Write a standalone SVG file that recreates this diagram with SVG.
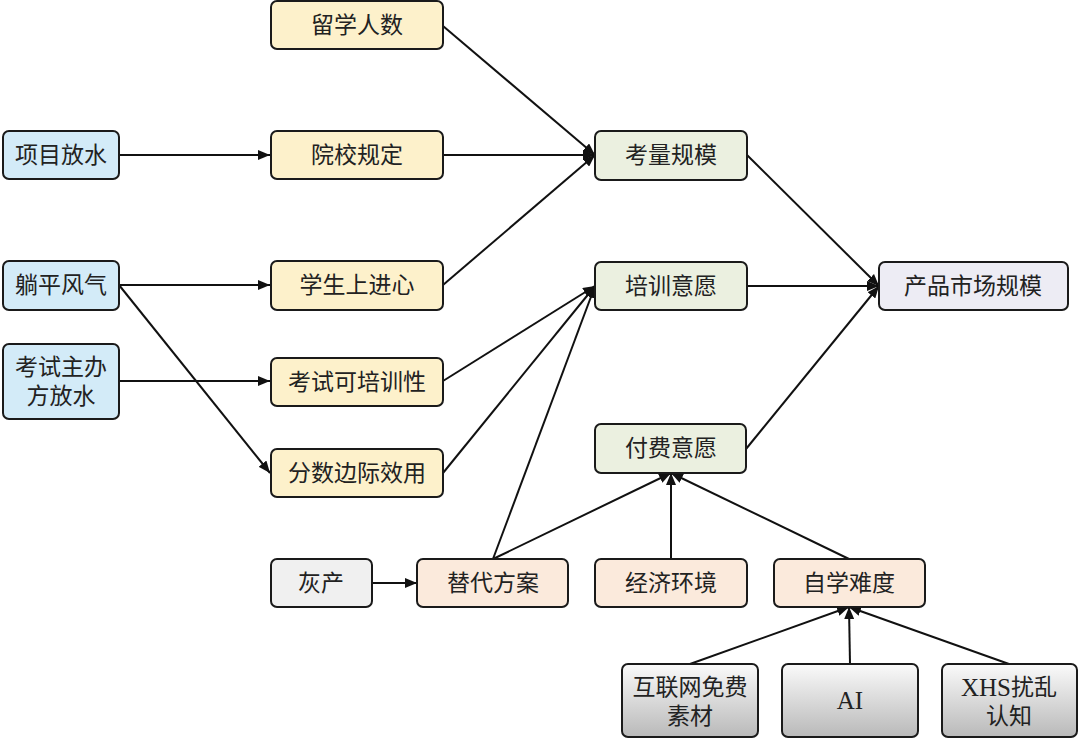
<svg xmlns="http://www.w3.org/2000/svg" width="1080" height="740" viewBox="0 0 1080 740">
<style>
.n{stroke:#1a1a1a;stroke-width:2}
.b{fill:#d3ebf8}.y{fill:#fdf1cb}.g{fill:#ebf0e0}.p{fill:#edecf4}.k{fill:#f0f0f0}.o{fill:#fbeadc}.gr{fill:url(#grad)}
text{font-family:"Liberation Serif","Noto Sans CJK SC",serif;font-size:23px;fill:#222;text-anchor:middle;dominant-baseline:central}
.lat{font-size:25px}
.e line{stroke:#111;stroke-width:2;marker-end:url(#ah)}
</style>
<defs>
<linearGradient id="grad" x1="0" y1="0" x2="0" y2="1">
<stop offset="0" stop-color="#fafafa"/><stop offset="1" stop-color="#b9b9b9"/>
</linearGradient>
<marker id="ah" viewBox="0 0 12 10" refX="12" refY="5" markerWidth="12" markerHeight="10" markerUnits="userSpaceOnUse" orient="auto">
<path d="M0,0 L12,5 L0,10 z" fill="#111"/>
</marker>
</defs>
<rect width="1080" height="740" fill="#fff"/>
<g class="e" id="connectors">
<line x1="443" y1="26" x2="595" y2="155"/>
<line x1="443" y1="155" x2="595" y2="155"/>
<line x1="443" y1="285" x2="595" y2="155"/>
<line x1="119" y1="155" x2="270" y2="155"/>
<line x1="119" y1="285" x2="270" y2="285"/>
<line x1="119" y1="285" x2="270" y2="473"/>
<line x1="119" y1="381" x2="270" y2="381"/>
<line x1="443" y1="381" x2="595" y2="286"/>
<line x1="443" y1="473" x2="595" y2="286"/>
<line x1="493" y1="559" x2="595" y2="286"/>
<line x1="493" y1="559" x2="671" y2="473"/>
<line x1="671" y1="559" x2="671" y2="473"/>
<line x1="849" y1="559" x2="671" y2="473"/>
<line x1="372" y1="583" x2="417" y2="583"/>
<line x1="747" y1="155" x2="879" y2="286"/>
<line x1="747" y1="286" x2="879" y2="286"/>
<line x1="746" y1="449" x2="879" y2="286"/>
<line x1="690" y1="664" x2="849" y2="607"/>
<line x1="850" y1="664" x2="849" y2="607"/>
<line x1="1009" y1="664" x2="849" y2="607"/>
</g>
<g id="n1"><rect class="n b" x="3" y="131" width="116" height="48" rx="6"/><text x="61" y="155">项目放水</text></g>
<g id="n2"><rect class="n b" x="3" y="261" width="116" height="49" rx="6"/><text x="61" y="285">躺平风气</text></g>
<g id="n3"><rect class="n b" x="3" y="344" width="116" height="75" rx="6"/><text x="61" y="367">考试主办</text><text x="61" y="396">方放水</text></g>
<g id="n4"><rect class="n y" x="271" y="1" width="172" height="48" rx="6"/><text x="357" y="25">留学人数</text></g>
<g id="n5"><rect class="n y" x="271" y="131" width="172" height="48" rx="6"/><text x="357" y="155">院校规定</text></g>
<g id="n6"><rect class="n y" x="271" y="261" width="172" height="49" rx="6"/><text x="357" y="285">学生上进心</text></g>
<g id="n7"><rect class="n y" x="271" y="358" width="172" height="48" rx="6"/><text x="357" y="382">考试可培训性</text></g>
<g id="n8"><rect class="n y" x="271" y="449" width="172" height="48" rx="6"/><text x="357" y="473">分数边际效用</text></g>
<g id="n9"><rect class="n g" x="595" y="131" width="152" height="49" rx="6"/><text x="671" y="155">考量规模</text></g>
<g id="n10"><rect class="n g" x="595" y="262" width="152" height="48" rx="6"/><text x="671" y="286">培训意愿</text></g>
<g id="n11"><rect class="n g" x="595" y="424" width="151" height="49" rx="6"/><text x="671" y="448">付费意愿</text></g>
<g id="n12"><rect class="n p" x="879" y="262" width="189" height="48" rx="6"/><text x="973" y="286">产品市场规模</text></g>
<g id="n13"><rect class="n k" x="271" y="559" width="101" height="48" rx="6"/><text x="321" y="583">灰产</text></g>
<g id="n14"><rect class="n o" x="417" y="559" width="151" height="48" rx="6"/><text x="493" y="583">替代方案</text></g>
<g id="n15"><rect class="n o" x="595" y="559" width="152" height="48" rx="6"/><text x="671" y="583">经济环境</text></g>
<g id="n16"><rect class="n o" x="774" y="559" width="151" height="48" rx="6"/><text x="849" y="583">自学难度</text></g>
<g id="n17"><rect class="n gr" x="622" y="664" width="136" height="73" rx="6"/><text x="690" y="687">互联网免费</text><text x="690" y="716">素材</text></g>
<g id="n18"><rect class="n gr" x="782" y="664" width="136" height="73" rx="6"/><text class="lat" x="850" y="700">AI</text></g>
<g id="n19"><rect class="n gr" x="942" y="664" width="135" height="73" rx="6"/><text x="1009" y="687"><tspan class="lat">XHS</tspan>扰乱</text><text x="1009" y="716">认知</text></g>
</svg>
